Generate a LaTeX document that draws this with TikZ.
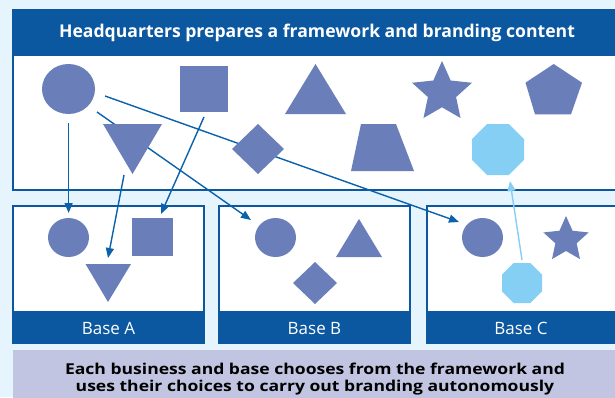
\documentclass[tikz,border=0pt]{standalone}
\usepackage{fontspec}
\setmainfont{Open Sans}
\newfontfamily\notefont[FakeStretch=1.17]{Open Sans}
\usetikzlibrary{arrows.meta}
\definecolor{bgc}{HTML}{E6F4FD}
\definecolor{hdr}{HTML}{0B57A0}
\definecolor{shp}{HTML}{6A7FBA}
\definecolor{lite}{HTML}{86CFF4}
\definecolor{band}{HTML}{C2C5E2}
\definecolor{arr}{HTML}{0A62AC}
\tikzset{
  panel/.style={fill=white, draw=hdr, line width=1.5pt},
  hdrband/.style={fill=hdr, draw=hdr, line width=1.5pt},
  figfill/.style={fill=shp},
  litefill/.style={fill=lite},
  link/.style={draw=arr, line width=1.4pt, -{Triangle[length=10pt,width=8pt]}},
  litelink/.style={draw=lite, line width=1.4pt, -{Triangle[length=10pt,width=8pt]}},
  hdrtext/.style={text=white, font=\fontsize{17.6}{20}\selectfont\bfseries},
  basetext/.style={text=white, anchor=base, font=\fontsize{17}{19}\selectfont},
  notetext/.style={text=black, anchor=base, inner sep=0pt, font=\notefont\fontsize{15}{17}\selectfont\bfseries}
}
\begin{document}
\begin{tikzpicture}[x=1pt,y=-1pt]
\useasboundingbox (0,0) rectangle (615,397);
\clip (0,0) rectangle (615,397);
\fill[bgc] (0,0) rectangle (615,397);
% top panel
\draw[panel] (13,55) rectangle (620,190);
\draw[hdrband] (13,10) rectangle (620,55);
\node[hdrtext] (hq) at (317,33) {Headquarters prepares a framework and branding content};
% base panels
\draw[panel] (13,206) rectangle (204,343);
\draw[hdrband] (13,312) rectangle (204,343);
\node[basetext] (la) at (108.5,334) {Base A};
\draw[panel] (219,206) rectangle (410,343);
\draw[hdrband] (219,312) rectangle (410,343);
\node[basetext] (lb) at (314.5,334) {Base B};
\draw[panel] (427,206) rectangle (620,343);
\draw[hdrband] (427,312) rectangle (620,343);
\node[basetext] (lc) at (521,334) {Base C};
% bottom banner
\fill[band] (13,350) rectangle (620,400);
\node[notetext] (note1) at (315,374) {Each business and base chooses from the framework and};
\node[notetext] (note2) at (315,391.5) {uses their choices to carry out branding autonomously};
% arrow end points
\coordinate (c1s) at (68.6,123);
\coordinate (c1e) at (68.6,213);
\coordinate (c2s) at (97,112);
\coordinate (c2e) at (251,220);
\coordinate (c3s) at (105,96);
\coordinate (c3e) at (459,222);
\coordinate (sqs) at (204,117);
\coordinate (sqe) at (161,214);
\coordinate (its) at (124,175);
\coordinate (ite) at (108,258);
\coordinate (ocs) at (522,260);
\coordinate (oce) at (510,181);
\draw[link] (c1s) -- (c1e);
\draw[link] (c2s) -- (c2e);
\draw[link] (c3s) -- (c3e);
\draw[link] (sqs) -- (sqe);
\draw[link] (its) -- (ite);
\draw[litelink] (ocs) -- (oce);
% top shapes
\fill[figfill] (68.5,89) ellipse [x radius=26.5, y radius=25];
\fill[figfill] (180,66) rectangle (228,112);
\fill[figfill] (285,114) -- (346,114) -- (315.5,64) -- cycle;
\fill[figfill] (442,61) \foreach \k in {1,...,9} {
  -- ({442+ (mod(\k,2)==0 ? 31.5 : 14.8)*sin(36*\k)}, {92.5 - (mod(\k,2)==0 ? 31.5 : 14.8)*cos(36*\k)})
} -- cycle;
\fill[figfill] (553.7,64) -- (582,82.7) -- (571,114.3) -- (535,114.3) -- (525.5,82.7) -- cycle;
\fill[figfill] (103,124) -- (162,124) -- (132.5,174) -- cycle;
\fill[figfill] (258,124) -- (284,149) -- (258,174) -- (232,149) -- cycle;
\fill[figfill] (361,124) -- (396,124) -- (414,171) -- (351,171) -- cycle;
\fill[litefill] (487.2,124) -- (508.8,124) -- (524,139.2) -- (524,159.8) -- (508.8,175) -- (487.2,175) -- (472,159.8) -- (472,139.2) -- cycle;
% base A shapes
\fill[figfill] (68.5,237.5) ellipse [x radius=20.5, y radius=19.5];
\fill[figfill] (132,218) rectangle (173,256);
\fill[figfill] (85.5,264) -- (131,264) -- (108,302) -- cycle;
% base B shapes
\fill[figfill] (275.5,237.5) ellipse [x radius=20.5, y radius=19.5];
\fill[figfill] (336,257) -- (382,257) -- (359,219) -- cycle;
\fill[figfill] (315,262) -- (337,283) -- (315,304) -- (293,283) -- cycle;
% base C shapes
\fill[figfill] (482.5,237.5) ellipse [x radius=20.5, y radius=19.5];
\fill[figfill] (566,216) \foreach \k in {1,...,9} {
  -- ({566+ (mod(\k,2)==0 ? 23.8 : 11.2)*sin(36*\k)}, {239.8 - (mod(\k,2)==0 ? 23.8 : 11.2)*cos(36*\k)})
} -- cycle;
\fill[litefill] (513.7,263) -- (530.3,263) -- (542,274.7) -- (542,291.3) -- (530.3,303) -- (513.7,303) -- (502,291.3) -- (502,274.7) -- cycle;
\end{tikzpicture}
\end{document}
